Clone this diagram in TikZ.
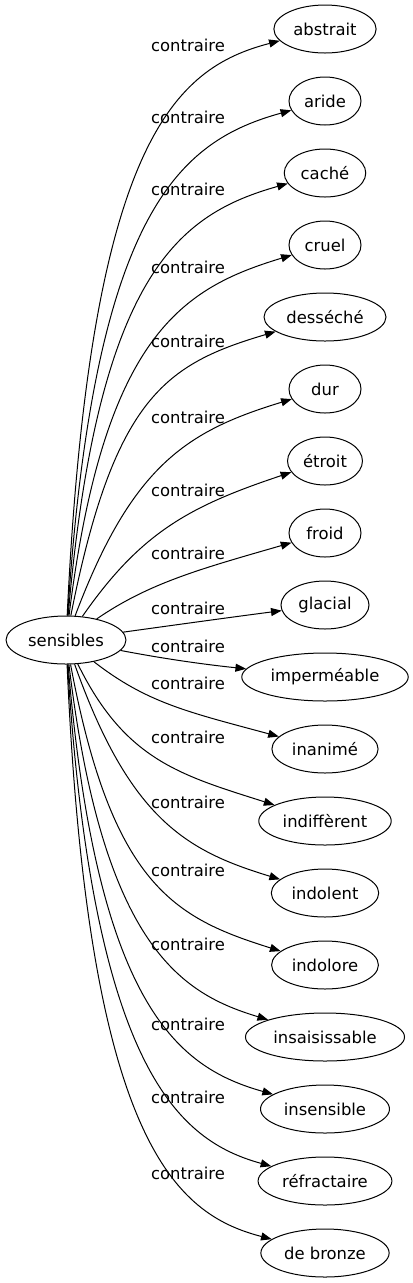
\documentclass[tikz,border=0pt]{standalone}
\usepackage{fontspec}
\setmainfont{DejaVu Sans}
\usetikzlibrary{arrows.meta,shapes.geometric}

\tikzset{
  mot/.style={draw, ellipse, line width=0.75pt, inner xsep=3.4pt, inner ysep=1pt,
    minimum width=54pt, minimum height=36pt, font=\fontsize{12.3pt}{14pt}\selectfont},
  rel/.style={line width=0.75pt, -{Triangle[length=8pt,width=6pt]}},
  lab/.style={inner sep=0pt, font=\fontsize{12.3pt}{14pt}\selectfont}
}

\begin{document}
\begin{tikzpicture}[x=0.75pt,y=-0.75pt]
\useasboundingbox (0,0) rectangle (413,1283);

\node[mot] (s) at (66,640) {sensibles};

\node[mot] (abstrait) at (325,29) {abstrait};
\node[mot] (aride) at (325,101) {aride};
\node[mot] (cache) at (325,173) {caché};
\node[mot] (cruel) at (325,245) {cruel};
\node[mot] (desseche) at (325,317) {desséché};
\node[mot] (dur) at (325,389) {dur};
\node[mot] (etroit) at (325,461) {étroit};
\node[mot] (froid) at (325,533) {froid};
\node[mot] (glacial) at (325,605) {glacial};
\node[mot] (impermeable) at (325,677) {imperméable};
\node[mot] (inanime) at (325,749) {inanimé};
\node[mot] (indifferent) at (325,821) {indiffèrent};
\node[mot] (indolent) at (325,893) {indolent};
\node[mot] (indolore) at (325,965) {indolore};
\node[mot] (insaisissable) at (325,1037) {insaisissable};
\node[mot] (insensible) at (325,1109) {insensible};
\node[mot] (refractaire) at (325,1181) {réfractaire};
\node[mot] (bronze) at (325,1253) {de bronze};

\draw[rel] (s) .. controls (90,140) and (175,68) .. (abstrait);
\draw[rel] (s) .. controls (94,210) and (180,141) .. (aride);
\draw[rel] (s) .. controls (98,272) and (180,214) .. (cache);
\draw[rel] (s) .. controls (104,334) and (183,288) .. (cruel);
\draw[rel] (s) .. controls (114,397) and (166,364) .. (desseche);
\draw[rel] (s) .. controls (132,465) and (187,431) .. (dur);
\draw[rel] (s) .. controls (141,532) and (190,506) .. (etroit);
\draw[rel] (s) .. controls (149,583) and (200,569) .. (froid);
\draw[rel] (s) .. controls (175,625) and (225,618) .. (glacial);
\draw[rel] (s) .. controls (160,658) and (200,664) .. (impermeable);
\draw[rel] (s) .. controls (147,703) and (188,712) .. (inanime);
\draw[rel] (s) .. controls (125,760) and (180,775) .. (indifferent);
\draw[rel] (s) .. controls (130,820) and (187,851) .. (indolent);
\draw[rel] (s) .. controls (112,886) and (175,918) .. (indolore);
\draw[rel] (s) .. controls (103,949) and (183,994) .. (insaisissable);
\draw[rel] (s) .. controls (97,1010) and (180,1068) .. (insensible);
\draw[rel] (s) .. controls (93,1072) and (180,1141) .. (refractaire);
\draw[rel] (s) .. controls (88,1142) and (175,1214) .. (bronze);

\node[lab] (c1) at (188,45) {contraire};
\node[lab] (c2) at (188,117) {contraire};
\node[lab] (c3) at (188,189) {contraire};
\node[lab] (c4) at (188,267) {contraire};
\node[lab] (c5) at (188,341) {contraire};
\node[lab] (c6) at (188,417) {contraire};
\node[lab] (c7) at (188,490) {contraire};
\node[lab] (c8) at (188,553) {contraire};
\node[lab] (c9) at (188,608) {contraire};
\node[lab] (c10) at (188,646) {contraire};
\node[lab] (c11) at (188,683) {contraire};
\node[lab] (c12) at (188,737) {contraire};
\node[lab] (c13) at (188,802) {contraire};
\node[lab] (c14) at (188,870) {contraire};
\node[lab] (c15) at (188,944) {contraire};
\node[lab] (c16) at (188,1024) {contraire};
\node[lab] (c17) at (188,1097) {contraire};
\node[lab] (c18) at (188,1173) {contraire};
\end{tikzpicture}
\end{document}
